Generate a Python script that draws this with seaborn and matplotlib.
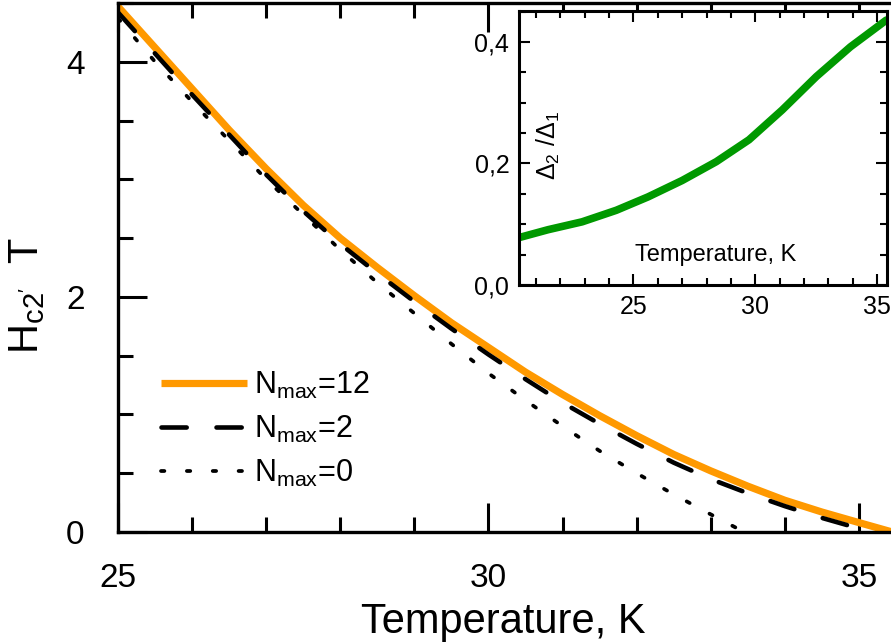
import pandas as pd
import seaborn as sns
import matplotlib.pyplot as plt
from matplotlib import font_manager
from matplotlib.ticker import MultipleLocator

# values
temp_n12 = [25.0, 25.5, 26.0, 26.5, 27.0, 27.5, 28.0, 28.5, 29.0, 29.5, 30.0,
            30.5, 31.0, 31.5, 32.0, 32.5, 33.0, 33.5, 34.0, 34.5, 35.0, 35.45]
hc2_n12 = [4.47, 4.12, 3.77, 3.42, 3.09, 2.78, 2.50, 2.25, 2.01, 1.78, 1.57,
           1.36, 1.17, 0.99, 0.82, 0.66, 0.52, 0.39, 0.27, 0.17, 0.08, 0.0]

temp_n2 = [25.0, 25.5, 26.0, 26.5, 27.0, 27.5, 28.0, 28.5, 29.0, 29.5, 30.0,
           30.5, 31.0, 31.5, 32.0, 32.5, 33.0, 33.5, 34.0, 34.5, 35.0, 35.15]
hc2_n2 = [4.42, 4.07, 3.72, 3.38, 3.04, 2.73, 2.45, 2.20, 1.96, 1.73, 1.51,
          1.30, 1.10, 0.92, 0.75, 0.59, 0.45, 0.33, 0.22, 0.12, 0.03, 0.0]

temp_n0 = [25.0, 25.5, 26.0, 26.5, 27.0, 27.5, 28.0, 28.5, 29.0, 29.5, 30.0,
           30.5, 31.0, 31.5, 32.0, 32.5, 33.0, 33.45]
hc2_n0 = [4.37, 4.00, 3.66, 3.33, 3.00, 2.70, 2.40, 2.12, 1.86, 1.60, 1.35,
          1.12, 0.90, 0.69, 0.50, 0.32, 0.15, 0.0]

temp_inset = [20.31, 21.5, 22.9, 24.3, 25.6, 27.0, 28.4, 29.74, 31.1, 32.5, 33.9, 35.37]
gap_ratio = [0.078, 0.091, 0.104, 0.123, 0.145, 0.172, 0.203, 0.239, 0.288, 0.343, 0.392, 0.436]

labels = ["N$_\\mathregular{max}$=12", "N$_\\mathregular{max}$=2", "N$_\\mathregular{max}$=0"]
main_xticks = [25, 30, 35]
main_yticks = [0, 2, 4]
inset_xticks = [25, 30, 35]
inset_yticks = [0.0, 0.2, 0.4]
inset_yticklabels = ["0,0", "0,2", "0,4"]

sns.set_style("ticks")
names = {f.name for f in font_manager.fontManager.ttflist}
fam = "Liberation Sans Narrow" if "Liberation Sans Narrow" in names else "Liberation Sans"
plt.rcParams["font.family"] = [fam, "DejaVu Sans"]
plt.rcParams["mathtext.fontset"] = "custom"
plt.rcParams["mathtext.rm"] = fam
plt.rcParams["text.color"] = "black"
plt.rcParams["axes.edgecolor"] = "black"
plt.rcParams["xtick.color"] = "black"
plt.rcParams["ytick.color"] = "black"

fig = plt.figure(figsize=(8.91, 6.43), dpi=100)
ax = fig.add_axes([118 / 891, 1 - 532 / 643, 775 / 891, 529 / 643])

df12 = pd.DataFrame({"T": temp_n12, "H": hc2_n12})
df2 = pd.DataFrame({"T": temp_n2, "H": hc2_n2})
df0 = pd.DataFrame({"T": temp_n0, "H": hc2_n0})

sns.lineplot(data=df12, x="T", y="H", ax=ax, color="#FF9900", lw=5.2,
             label=labels[0], solid_capstyle="butt")
sns.lineplot(data=df2, x="T", y="H", ax=ax, color="black", lw=3.3,
             label=labels[1], dashes=False)
sns.lineplot(data=df0, x="T", y="H", ax=ax, color="black", lw=2.7,
             label=labels[2], dashes=False)
ax.lines[1].set_dashes([5.5, 6.5])
ax.lines[1].set_dash_capstyle("round")
ax.lines[2].set_dashes([0.9, 6.0])
ax.lines[2].set_dash_capstyle("round")

ax.set_xlim(25, 35.46)
ax.set_ylim(0, 4.5)
ax.set_xticks(main_xticks)
ax.set_yticks(main_yticks)
ax.xaxis.set_minor_locator(MultipleLocator(1))
ax.yaxis.set_minor_locator(MultipleLocator(0.5))
ax.tick_params(which="both", direction="in", top=True, width=2.2, labelsize=24)
ax.tick_params(axis="y", which="major", length=21, pad=24)
ax.tick_params(axis="x", which="major", length=21, pad=22)
ax.tick_params(which="minor", length=11)
for s in ["left", "bottom", "top"]:
    ax.spines[s].set_linewidth(2.4)
ax.spines["right"].set_visible(False)
ax.set_xlabel("")
ax.set_ylabel("")
ax.text(0.497, -0.17, "Temperature, K", transform=ax.transAxes,
        ha="center", va="center", fontsize=30)
ax.text(-0.117, 0.446, "H$_\\mathregular{c2'}$  T", transform=ax.transAxes,
        ha="center", va="center", rotation=90, fontsize=30)

leg = ax.legend(loc="upper left", bbox_to_anchor=(0.04, 0.33), frameon=False,
                fontsize=22, handlelength=2.8, handletextpad=0.25,
                labelspacing=0.42, borderaxespad=0)

# inset with the gap ratio
ax_in = fig.add_axes([519 / 891, 1 - 285 / 643, 368 / 891, 274 / 643])
dfin = pd.DataFrame({"T": temp_inset, "r": gap_ratio})
sns.lineplot(data=dfin, x="T", y="r", ax=ax_in, color="#009900", lw=5.5)
ax_in.set_xlim(20.31, 35.4)
ax_in.set_ylim(0, 0.451)
ax_in.set_xticks(inset_xticks)
ax_in.set_yticks(inset_yticks)
ax_in.set_yticklabels(inset_yticklabels)
ax_in.xaxis.set_minor_locator(MultipleLocator(1))
ax_in.yaxis.set_minor_locator(MultipleLocator(0.05))
ax_in.tick_params(which="both", direction="in", top=True, right=True,
                  width=1.5, labelsize=18)
ax_in.tick_params(which="major", length=8, pad=7)
ax_in.tick_params(which="minor", length=5)
for s in ax_in.spines.values():
    s.set_linewidth(2.2)
ax_in.set_xlabel("")
ax_in.set_ylabel("")
ax_in.text(0.533, 0.11, "Temperature, K", transform=ax_in.transAxes,
           ha="center", va="center", fontsize=17)
ax_in.text(0.079, 0.51, "Δ$_\\mathregular{2}$ /Δ$_\\mathregular{1}$", transform=ax_in.transAxes,
           ha="center", va="center", rotation=90, fontsize=18)

fig.savefig("out.png", dpi=100)
